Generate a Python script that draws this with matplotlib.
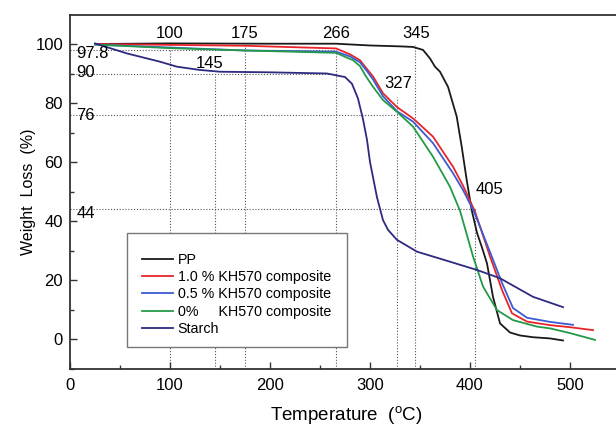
import matplotlib
matplotlib.use("Agg")
import matplotlib.pyplot as plt
from matplotlib.patches import Rectangle

plt.rcParams['font.family'] = ['Liberation Sans', 'DejaVu Sans']

# ---------------- data ----------------
pp_T = [25, 100, 200, 266, 300, 330, 343, 353, 360, 365, 370, 378, 386.7, 391.7, 396.7, 401.7, 407, 412, 417, 423, 430, 440, 450, 463, 480, 493]
pp_W = [100, 100.2, 100.1, 100.1, 99.5, 99.2, 99.0, 98.0, 95.1, 92.3, 90.6, 85.5, 75.4, 65.2, 53.9, 43.7, 36, 31, 25.6, 14.3, 5.3, 2.2, 1.2, 0.6, 0.2, -0.5]

r10_T = [25, 100, 175, 266, 280, 290, 297, 303, 313, 327, 343, 363, 383, 393, 405, 420, 432, 442, 457, 480, 500, 523]
r10_W = [100, 99.7, 99.4, 98.5, 96.5, 94.5, 91.5, 89, 83.3, 78.6, 74.8, 68.6, 58.4, 52, 43.2, 28, 16.6, 8.7, 5.9, 4.7, 4.0, 3.0]

r05_T = [25, 100, 175, 266, 280, 290, 297, 303, 313, 327, 343, 363, 383, 393, 404, 420, 432, 443, 457, 480, 503]
r05_W = [99.8, 98.8, 97.8, 97.4, 95.8, 93.8, 90.8, 88, 82.3, 77.2, 73.7, 66.4, 56.2, 50.5, 43.2, 29.5, 19, 10.5, 7.2, 5.8, 4.8]

r00_T = [25, 100, 175, 266, 283, 290, 296, 303, 313, 327, 343, 363, 380, 390, 403, 413, 427, 443, 467, 480, 500, 525]
r00_W = [99.8, 98.6, 97.8, 97.0, 94.5, 92.5, 89.0, 85.5, 81, 77, 72, 61.8, 51.6, 43.5, 28, 17.8, 9.8, 6.4, 4.2, 3.6, 2.0, -0.3]

st_T = [25, 57, 90, 107, 130, 150, 200, 257, 275, 282, 288, 293, 297, 300, 307, 313, 318, 327, 347, 380, 407, 430, 463, 493]
st_W = [100.2, 96.8, 94, 92.3, 91.2, 90.6, 90.4, 90, 88.8, 86.5, 81.5, 74.5, 67.5, 60, 48, 40.3, 37.0, 33.6, 29.6, 26.2, 23.4, 20.6, 14.3, 10.8]

series_labels = ["PP", "1.0 % KH570 composite", "0.5 % KH570 composite",
                 "0%     KH570 composite", "Starch"]
series_colors = ["#1a1a1a", "#e8242b", "#3b5bd0", "#239a48", "#2d2a80"]

# reference markers
vlines_T = [100, 145, 175, 266, 327, 345, 405]
vlines_top = [100, 90, 100, 98, 82, 99.5, 44]
hlines_W = [97.8, 90, 76, 44]
hlines_end = [266, 266, 327, 405]
top_labels = ["100", "175", "266", "345"]
top_label_T = [100, 175, 266.5, 346]
mid_labels = ["145", "327", "405"]
mid_label_pos = [(140, 93.4), (328, 86.7), (420, 50.7)]
left_labels = ["97.8", "90", "76", "44"]
left_label_W = [96.8, 90.4, 75.9, 42.6]

xticks = [0, 100, 200, 300, 400, 500]
yticks = [0, 20, 40, 60, 80, 100]

# ---------------- figure ----------------
fig = plt.figure(figsize=(6.16, 4.29), dpi=100)
ax = fig.add_axes([70 / 616, (429 - 368.5) / 429, 546 / 616, (368.5 - 14.5) / 429])
ax.set_xlim(0, 546)
ax.set_ylim(-10, 110)

dot = dict(color="#555555", lw=0.8, ls=(0, (1, 1.6)), zorder=1)
for t, top in zip(vlines_T, vlines_top):
    ax.plot([t, t], [-10, top], **dot)
for w, end in zip(hlines_W, hlines_end):
    ax.plot([0, end], [w, w], **dot)

data = [(pp_T, pp_W), (r10_T, r10_W), (r05_T, r05_W), (r00_T, r00_W), (st_T, st_W)]
handles = []
for (T, W), lab, col in zip(data, series_labels, series_colors):
    h, = ax.plot(T, W, color=col, lw=1.3, label=lab, zorder=3)
    handles.append(h)

fs_ann = 12
for lab, t in zip(top_labels, top_label_T):
    ax.text(t, 103.5, lab, ha="center", va="center", fontsize=fs_ann)
for lab, (t, w) in zip(mid_labels, mid_label_pos):
    ax.text(t, w, lab, ha="center", va="center", fontsize=fs_ann)
for lab, w in zip(left_labels, left_label_W):
    ax.text(6.5, w, lab, ha="left", va="center", fontsize=fs_ann)

# legend box
ax.add_patch(Rectangle((57, -2.7), 220, 38.6, facecolor="white", edgecolor="#777777",
                       lw=1.0, zorder=4))
leg = ax.legend(handles=handles, loc="upper left", bbox_to_anchor=(72 / 546, (29.1 + 10) / 120),
                frameon=False, fontsize=10.3, handlelength=2.15, handletextpad=0.35,
                labelspacing=0.22, borderpad=0, borderaxespad=0)
leg.set_zorder(5)

ax.set_xticks(xticks)
ax.set_yticks(yticks)
ax.set_xticks(range(50, 546, 100), minor=True)
ax.set_yticks(range(-10, 110, 20), minor=True)
ax.tick_params(which="both", direction="in", labelsize=12, width=1.0, color="#333333")
ax.tick_params(which="major", length=5)
ax.tick_params(which="minor", length=3)
ax.tick_params(axis="x", pad=7)
ax.tick_params(axis="y", pad=5)
ax.tick_params(top=False, right=False)

for s in ["left", "bottom", "top"]:
    ax.spines[s].set_linewidth(1.3)
    ax.spines[s].set_color("#333333")
ax.spines["right"].set_visible(False)

ax.set_xlabel("Temperature  ($\\mathregular{^{o}}$C)", fontsize=13.5)
ax.set_ylabel("Weight  Loss  (%)", fontsize=11.5)
ax.xaxis.set_label_coords(276 / 546, -0.1)
ax.yaxis.set_label_coords(-34 / 546, 0.5)

fig.savefig("out.png", dpi=100)
